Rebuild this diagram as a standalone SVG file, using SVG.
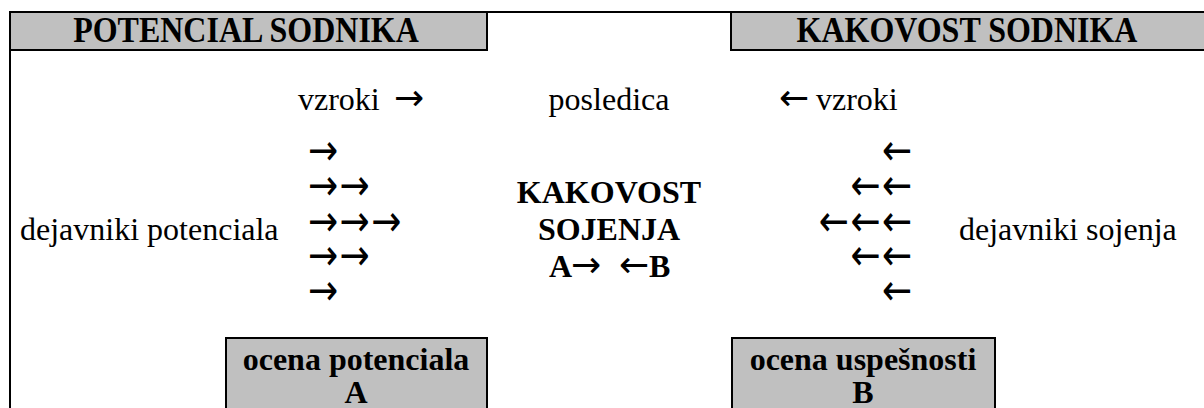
<svg xmlns="http://www.w3.org/2000/svg" width="1204" height="408" viewBox="0 0 1204 408">
<style>
.box{fill:#c0c0c0;stroke:#000;stroke-width:2}
.line{stroke:#000;stroke-width:2;fill:none}
.t{font-family:"Liberation Serif","Times New Roman",serif;font-size:32px;fill:#000}
.b{font-family:"Liberation Serif","Times New Roman",serif;font-size:32px;font-weight:bold;fill:#000}
.ar{font-family:"DejaVu Sans",sans-serif;font-size:36px;font-weight:normal;fill:#000}
.c{text-anchor:middle}
</style>
<rect width="1204" height="408" fill="#fff"/>
<g id="frame">
<line class="line" x1="10" y1="11" x2="10" y2="408"/>
<line class="line" x1="9" y1="12" x2="1204" y2="12"/>
</g>
<g id="header-potencial">
<rect class="box" x="10" y="12" width="477" height="38"/>
<text class="b c" transform="translate(246,42) scale(1,1.15)">POTENCIAL SODNIKA</text>
</g>
<g id="header-kakovost">
<rect class="box" x="731" y="12" width="480" height="38"/>
<text class="b c" transform="translate(967,42) scale(1,1.15)">KAKOVOST SODNIKA</text>
</g>
<g id="vzroki-left">
<text class="t" y="110"><tspan x="298">vzroki</tspan><tspan class="ar" x="394">→</tspan></text>
</g>
<g id="posledica">
<text class="t c" x="609" y="110">posledica</text>
</g>
<g id="vzroki-right">
<text class="t" y="110"><tspan class="ar" x="779">←</tspan><tspan x="816">vzroki</tspan></text>
</g>
<g id="dejavniki-potenciala">
<text class="t" x="20" y="240">dejavniki potenciala</text>
</g>
<g id="arrows-left">
<text class="ar" transform="translate(0,165) scale(1,1.2)"><tspan x="308">→</tspan></text>
<text class="ar" transform="translate(0,200) scale(1,1.2)"><tspan x="308 339.6">→→</tspan></text>
<text class="ar" transform="translate(0,236) scale(1,1.2)"><tspan x="308 339.6 371.2">→→→</tspan></text>
<text class="ar" transform="translate(0,270) scale(1,1.2)"><tspan x="308 339.6">→→</tspan></text>
<text class="ar" transform="translate(0,305) scale(1,1.2)"><tspan x="308">→</tspan></text>
</g>
<g id="kakovost-sojenja">
<text class="b c" x="609" y="203">KAKOVOST</text>
<text class="b c" x="609" y="240">SOJENJA</text>
<text class="b" y="277"><tspan x="549">A</tspan><tspan class="ar" x="571">→</tspan><tspan x="604"> </tspan><tspan class="ar" x="619">←</tspan><tspan x="649">B</tspan></text>
</g>
<g id="arrows-right">
<text class="ar" transform="translate(0,165) scale(1,1.2)"><tspan x="882">←</tspan></text>
<text class="ar" transform="translate(0,200) scale(1,1.2)"><tspan x="850.4 882">←←</tspan></text>
<text class="ar" transform="translate(0,236) scale(1,1.2)"><tspan x="818.8 850.4 882">←←←</tspan></text>
<text class="ar" transform="translate(0,270) scale(1,1.2)"><tspan x="850.4 882">←←</tspan></text>
<text class="ar" transform="translate(0,305) scale(1,1.2)"><tspan x="882">←</tspan></text>
</g>
<g id="dejavniki-sojenja">
<text class="t" x="959" y="240">dejavniki sojenja</text>
</g>
<g id="ocena-potenciala">
<rect class="box" x="226" y="338" width="261" height="90"/>
<text class="b c" x="356" y="370">ocena potenciala</text>
<text class="b c" x="356" y="403">A</text>
</g>
<g id="ocena-uspesnosti">
<rect class="box" x="732" y="338" width="263" height="90"/>
<text class="b c" x="863" y="370">ocena uspešnosti</text>
<text class="b c" x="863" y="403">B</text>
</g>
</svg>
